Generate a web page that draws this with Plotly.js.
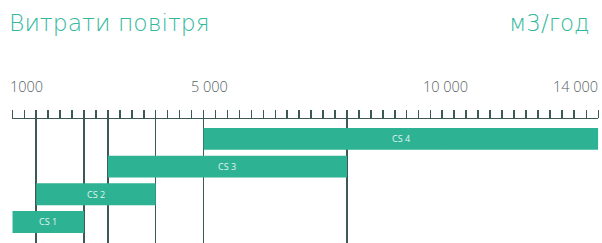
<!DOCTYPE html>
<html>
<head>
<meta charset="utf-8">
<script src="https://cdn.plot.ly/plotly-3.0.1.min.js"></script>
<style>html,body{margin:0;padding:0;background:#fff}#chart{width:602px;height:243px}</style>
</head>
<body>
<div id="chart"></div>
<script>
// ---- data ----
const seriesNames = ['CS 1', 'CS 2', 'CS 3', 'CS 4'];
const rangeStart = [1000, 1500, 3000, 5000];
const rangeEnd = [2500, 4000, 8000, 14000];
const tickValues = [1000, 5000, 10000, 14000];
const tickLabels = ['1000', '5 000', '10 000', '14 000'];
const majorTickValues = [5000, 10000];
const chartTitle = 'Витрати повітря';
const unitLabel = 'м3/год';

// ---- styles ----
const TEAL = '#2db294';
const TITLE_TEAL = '#33b89b';
const DARK = '#3d5955';
const GREY_TEXT = '#56625f';
const FONT = '"Open Sans", sans-serif';
const TITLE_FONT = '"DejaVu Sans", sans-serif';

// broken axis: linear part and compressed tail (1px overlap to avoid seam)
const W = 602;
const X1 = {domain: [12.3 / W, 442.6 / W], range: [1000, 10000]};
const X2 = {domain: [441.8 / W, 598.3 / W], range: [10000, 14000]};
function toPaper(v) {
  const a = v <= X1.range[1] ? X1 : X2;
  return a.domain[0] + (v - a.range[0]) / (a.range[1] - a.range[0]) * (a.domain[1] - a.domain[0]);
}

// gridlines at the bar end points
const gridVals = Array.from(new Set(rangeStart.concat(rangeEnd))).sort((a, b) => a - b);

// split bars across the two axis segments
function segment(ax) {
  const y = [], base = [], len = [];
  seriesNames.forEach((n, i) => {
    const s = Math.max(rangeStart[i], ax.range[0]);
    const e = Math.min(rangeEnd[i], ax.range[1]);
    if (e > s) { y.push(n); base.push(s); len.push(e - s); }
  });
  return {y, base, len};
}
const s1 = segment(X1), s2 = segment(X2);

const traces = [
  {type: 'bar', orientation: 'h', y: s1.y, x: s1.len, base: s1.base, xaxis: 'x', yaxis: 'y',
   marker: {color: TEAL, line: {width: 0}}, hoverinfo: 'skip', showlegend: false},
  {type: 'bar', orientation: 'h', y: s2.y, x: s2.len, base: s2.base, xaxis: 'x2', yaxis: 'y',
   marker: {color: TEAL, line: {width: 0}}, hoverinfo: 'skip', showlegend: false}
];

const commonX = {
  side: 'top', anchor: 'y', showline: true, linecolor: DARK, linewidth: 1.5,
  ticks: 'outside', ticklen: 8, tickwidth: 1.5, tickcolor: DARK,
  showticklabels: false, showgrid: true, gridcolor: DARK, gridwidth: 1.5, zeroline: false,
  fixedrange: true
};

const layout = {
  width: 602, height: 243,
  margin: {l: 0, r: 0, t: 119, b: 0},
  paper_bgcolor: '#fff', plot_bgcolor: 'rgba(0,0,0,0)',
  font: {family: FONT, color: GREY_TEXT},
  barmode: 'overlay', bargap: 0.21,
  title: {text: chartTitle, x: 9 / W, xanchor: 'left', xref: 'paper',
          y: 1 - 23 / 243, yanchor: 'middle', yref: 'container',
          font: {family: TITLE_FONT, size: 23.5, weight: 200, color: TITLE_TEAL}},
  xaxis: Object.assign({}, commonX, {
    domain: X1.domain, range: X1.range, tickmode: 'array',
    tickvals: gridVals.filter(v => v >= X1.range[0] && v < X1.range[1]),
    minor: {tick0: 1000, dtick: 250, ticks: 'outside', ticklen: 8, tickwidth: 1.5, tickcolor: DARK, showgrid: false}
  }),
  xaxis2: Object.assign({}, commonX, {
    domain: X2.domain, range: X2.range, tickmode: 'array',
    tickvals: gridVals.filter(v => v >= X2.range[0] && v <= X2.range[1]),
    minor: {tick0: 10000, dtick: 4000 / 13, ticks: 'outside', ticklen: 8, tickwidth: 1.5, tickcolor: DARK, showgrid: false}
  }),
  xaxis3: {
    overlaying: 'x', side: 'top', anchor: 'y', domain: X1.domain, range: X1.range,
    tickmode: 'array', tickvals: majorTickValues, ticks: 'outside', ticklen: 19, tickwidth: 1.5,
    tickcolor: DARK, showticklabels: false, showgrid: false, showline: false, zeroline: false, fixedrange: true
  },
  yaxis: {
    type: 'category', categoryorder: 'array', categoryarray: seriesNames,
    range: [-0.76, 3.72], showticklabels: false, showgrid: false, zeroline: false,
    showline: false, ticks: '', fixedrange: true
  },
  annotations: []
};

// unit label
layout.annotations.push({
  text: unitLabel, xref: 'paper', yref: 'paper', x: 592 / W, xanchor: 'right',
  y: 1, yanchor: 'middle', yshift: 96, showarrow: false,
  font: {family: TITLE_FONT, size: 23, weight: 200, color: TITLE_TEAL}
});

// tick labels
const tickAnchor = ['left', 'center', 'center', 'right'];
const tickShift = [-4, 6, 3, 2];
tickValues.forEach((v, i) => {
  layout.annotations.push({
    text: tickLabels[i], xref: 'paper', yref: 'paper', x: toPaper(v), xanchor: tickAnchor[i],
    xshift: tickShift[i], y: 1, yanchor: 'middle', yshift: 33, showarrow: false,
    font: {family: FONT, size: 14.5, weight: 300, color: GREY_TEXT}
  });
});

// bar labels
seriesNames.forEach((n, i) => {
  layout.annotations.push({
    text: n, xref: 'paper', yref: 'y', x: (toPaper(rangeStart[i]) + toPaper(rangeEnd[i])) / 2,
    y: n, xanchor: 'center', yanchor: 'middle', showarrow: false,
    font: {family: FONT, size: 9, color: '#e2f5f0'}
  });
});

Plotly.newPlot('chart', traces, layout, {displayModeBar: false, staticPlot: true});
</script>
</body>
</html>
